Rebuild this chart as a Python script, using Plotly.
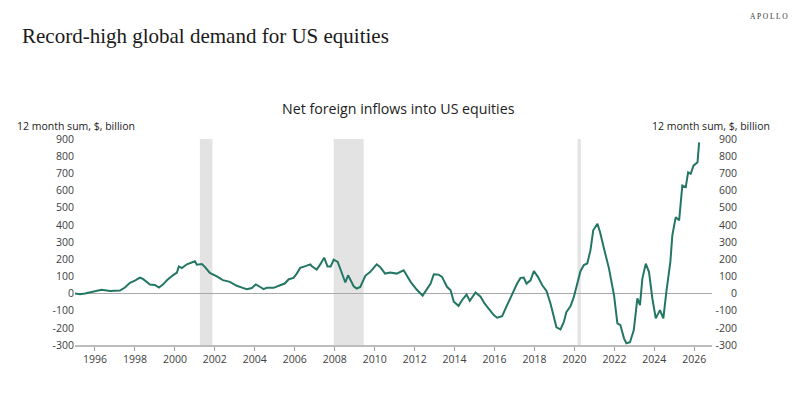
import plotly.graph_objects as go

# ---- data ----
years = [1995.0, 1995.25, 1995.5, 1995.75, 1996.0, 1996.33, 1996.75, 1997.25, 1997.5, 1997.75,
         1998.0, 1998.25, 1998.4, 1998.75, 1999.0, 1999.2, 1999.4, 1999.6, 1999.9, 2000.1,
         2000.2, 2000.35, 2000.6, 2000.85, 2001.0, 2001.1, 2001.35, 2001.5, 2001.75, 2002.1,
         2002.4, 2002.75, 2003.1, 2003.4, 2003.6, 2003.85, 2004.05, 2004.27, 2004.44, 2004.6,
         2004.94, 2005.27, 2005.5, 2005.7, 2005.94, 2006.1, 2006.27, 2006.5, 2006.78, 2006.86,
         2007.1, 2007.3, 2007.47, 2007.64, 2007.8, 2007.95, 2008.15, 2008.32, 2008.53, 2008.67,
         2008.78, 2008.95, 2009.1, 2009.28, 2009.53, 2009.78, 2010.1, 2010.27, 2010.52, 2010.78,
         2011.1, 2011.45, 2011.8, 2012.1, 2012.4, 2012.6, 2012.8, 2012.96, 2013.2, 2013.37,
         2013.62, 2013.8, 2013.96, 2014.2, 2014.37, 2014.6, 2014.76, 2015.05, 2015.3, 2015.5,
         2015.7, 2015.96, 2016.13, 2016.38, 2016.63, 2016.88, 2017.13, 2017.3, 2017.46, 2017.6,
         2017.8, 2017.97, 2018.17, 2018.39, 2018.6, 2018.8, 2018.97, 2019.1, 2019.3, 2019.47,
         2019.6, 2019.8, 2019.97, 2020.13, 2020.3, 2020.47, 2020.64, 2020.8, 2020.94, 2021.15,
         2021.28, 2021.48, 2021.73, 2021.98, 2022.15, 2022.3, 2022.48, 2022.6, 2022.78, 2022.97,
         2023.15, 2023.28, 2023.4, 2023.57, 2023.73, 2023.9, 2024.07, 2024.28, 2024.45, 2024.6,
         2024.8, 2024.9, 2025.07, 2025.24, 2025.4, 2025.57, 2025.69, 2025.82, 2025.96, 2026.16,
         2026.24]
inflows = [0, -5, 0, 7, 12, 22, 15, 17, 35, 62,
           75, 92, 85, 52, 50, 35, 52, 77, 106, 122,
           158, 148, 170, 184, 188, 168, 172, 155, 120, 100,
           78, 68, 45, 33, 25, 32, 53, 38, 25, 33,
           33, 48, 58, 83, 91, 116, 149, 158, 170, 158,
           139, 174, 209, 158, 158, 197, 184, 131, 64, 106,
           81, 42, 29, 38, 103, 126, 170, 155, 116, 122,
           116, 135, 68, 23, -12, 25, 58, 112, 110, 97,
           39, 19, -48, -72, -39, -6, -43, 6, -19, -58,
           -87, -126, -141, -132, -68, 0, 58, 91, 93, 58,
           77, 131, 97, 48, 15, -58, -136, -197, -209, -165,
           -107, -75, -20, 60, 130, 166, 175, 251, 368, 406,
           358, 261, 145, -10, -174, -184, -261, -290, -284, -213,
           -29, -68, 87, 174, 126, -29, -145, -97, -145, 10,
           184, 339, 445, 426, 629, 620, 706, 697, 745, 764,
           880]

rec_start = [2001.25, 2007.95, 2020.15]
rec_end = [2001.88, 2009.45, 2020.32]

x_ticks = list(range(1996, 2027, 2))
y_ticks = [-300, -200, -100, 0, 100, 200, 300, 400, 500, 600, 700, 800, 900]
y_ticktext = ["-300", "-200", "-100", "0", "100", "200", "300", "400", "500", "600", "700", "800", "900"]

# ---- layout geometry (pixels) ----
W, H = 800, 394
L, R, T, B = 75, 55, 138.5, 49
plot_w = W - L - R
plot_h = H - T - B
x_dom_right = (711.7 - L) / plot_w

def px(xp):
    return (xp - L) / plot_w

def py(yp):
    return (H - B - yp) / plot_h

sans = "Open Sans"
tick_col = "#404040"

fig = go.Figure()
fig.add_trace(go.Scatter(x=years, y=inflows, mode="lines",
                         line=dict(color="#237663", width=2),
                         showlegend=False, hoverinfo="skip"))
fig.add_trace(go.Scatter(x=years, y=inflows, mode="lines", yaxis="y2",
                         line=dict(color="rgba(0,0,0,0)", width=0),
                         showlegend=False, hoverinfo="skip"))

for s, e in zip(rec_start, rec_end):
    fig.add_shape(type="rect", xref="x", yref="y", x0=s, x1=e, y0=-300, y1=900,
                  fillcolor="#e3e3e3", line=dict(width=0), layer="below")

fig.update_layout(
    width=W, height=H,
    margin=dict(l=L, r=R, t=T, b=B),
    paper_bgcolor="white", plot_bgcolor="white",
    title=dict(text="Record-high global demand for US equities",
               font=dict(family="Liberation Serif", size=21, color="#1a1a1a"),
               xref="container", yref="container", x=22 / W, xanchor="left",
               y=1 - 36 / H, yanchor="middle"),
    xaxis=dict(domain=[0, x_dom_right], range=[1995.0, 2026.87],
               tickvals=x_ticks, ticks="outside", ticklen=4, tickcolor="#a0a0a0",
               showline=True, linecolor="#bdbdbd", linewidth=1.5,
               showgrid=False, zeroline=False,
               tickfont=dict(family=sans, size=10.5, color=tick_col)),
    yaxis=dict(range=[-300, 900], tickvals=y_ticks, ticktext=y_ticktext,
               showgrid=False, showline=False, ticks="",
               zeroline=True, zerolinecolor="#a8a8a8", zerolinewidth=1.3,
               tickfont=dict(family=sans, size=10.5, color=tick_col)),
    yaxis2=dict(range=[-300, 900], tickvals=y_ticks, ticktext=y_ticktext,
                overlaying="y", side="right", anchor="free", position=px(740),
                ticklabelposition="inside", ticklabeloverflow="allow",
                showgrid=False, showline=False, ticks="", zeroline=False,
                tickfont=dict(family=sans, size=10.5, color=tick_col)),
)

annos = [
    dict(text="A P O L L O", x=px(790), y=py(16), xanchor="right", yanchor="middle",
         font=dict(family="Liberation Serif", size=7.5, color="#333333")),
    dict(text="Net foreign inflows into US equities", x=px(398), y=py(108),
         xanchor="center", yanchor="middle",
         font=dict(family=sans, size=14.2, color="#222222")),
    dict(text="12 month sum, $, billion", x=px(15), y=py(125),
         xanchor="left", yanchor="middle",
         font=dict(family=sans, size=10.5, color="#222222")),
    dict(text="12 month sum, $, billion", x=px(772), y=py(125),
         xanchor="right", yanchor="middle",
         font=dict(family=sans, size=10.5, color="#222222")),
]
for a in annos:
    fig.add_annotation(xref="paper", yref="paper", showarrow=False, **a)

fig.write_html("out.html")
